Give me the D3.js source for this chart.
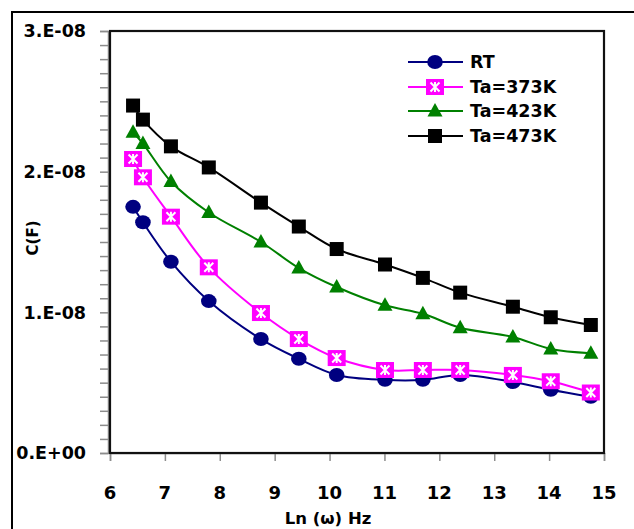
<!DOCTYPE html>
<html><head><meta charset="utf-8">
<script src="https://cdn.jsdelivr.net/npm/d3@7"></script>
<style>html,body{margin:0;padding:0;background:#fff;overflow:hidden}</style>
</head><body>
<svg id="c" width="634" height="529"></svg>
<script>
// ---- data ----
const lnOmega = [6.42, 6.60, 7.11, 7.80, 8.75, 9.44, 10.13, 11.01, 11.70, 12.38, 13.34, 14.03, 14.76];
const seriesNames = ["RT", "Ta=373K", "Ta=423K", "Ta=473K"];
const capRT   = [1.75, 1.64, 1.36, 1.08, 0.81, 0.67, 0.555, 0.52, 0.52, 0.555, 0.505, 0.45, 0.40];
const cap373  = [2.09, 1.96, 1.68, 1.32, 0.995, 0.81, 0.675, 0.59, 0.59, 0.59, 0.555, 0.51, 0.43];
const cap423  = [2.28, 2.20, 1.93, 1.71, 1.50, 1.315, 1.18, 1.05, 0.99, 0.89, 0.825, 0.74, 0.71];
const cap473  = [2.47, 2.37, 2.18, 2.03, 1.78, 1.61, 1.45, 1.34, 1.245, 1.14, 1.04, 0.965, 0.91];
const capScale = 1e-8;
const xTicks = [6, 7, 8, 9, 10, 11, 12, 13, 14, 15];
const yTicks = [0, 1e-8, 2e-8, 3e-8];
const yTickLabels = ["0.E+00", "1.E-08", "2.E-08", "3.E-08"];

const seriesData = [capRT, cap373, cap423, cap473];
const colors = ["#000080", "#ff00ff", "#008000", "#000000"];
const shapes = ["ellipse", "xsquare", "triangle", "square"];

const svg = d3.select("#c");
const L = 110, R = 604, T = 31, B = 453;
const x = d3.scaleLinear().domain([6, 15]).range([L, R]);
const y = d3.scaleLinear().domain([0, 3e-8]).range([B, T]);
const FONT = "'DejaVu Sans', Verdana, sans-serif";

// outer frame
svg.append("rect").attr("x", 12).attr("y", 12).attr("width", 700).attr("height", 700)
  .attr("fill", "none").attr("stroke", "#000").attr("stroke-width", 2);

// y axis (gray) with minor ticks
const minor = d3.range(0, 31).map(i => i * 1e-9);
const yAxis = d3.axisLeft(y).tickValues(minor).tickSize(8).tickFormat("");
const gy = svg.append("g").attr("transform", `translate(${L - 2},0)`).call(yAxis);
gy.selectAll("path,line").attr("stroke", "#8c8c8c").attr("stroke-width", 1.5);

// x axis ticks
const xAxis = d3.axisBottom(x).tickValues(xTicks).tickSize(8).tickFormat("");
const gx = svg.append("g").attr("transform", `translate(0,${B})`).call(xAxis);
gx.selectAll("path,line").attr("stroke", "#8c8c8c").attr("stroke-width", 1.5);

// plot frame
svg.append("rect").attr("x", L).attr("y", T).attr("width", R - L).attr("height", B - T)
  .attr("fill", "none").attr("stroke", "#111").attr("stroke-width", 2.2);

// tick labels
svg.selectAll(".yl").data(yTicks).enter().append("text")
  .attr("x", 86).attr("y", d => y(d)).attr("dy", "0.36em")
  .attr("text-anchor", "end").attr("font-family", FONT).attr("font-weight", "bold")
  .attr("font-size", 17.5).text((d, i) => yTickLabels[i]);
svg.selectAll(".xl").data(xTicks).enter().append("text")
  .attr("x", d => x(d)).attr("y", 499)
  .attr("text-anchor", "middle").attr("font-family", FONT).attr("font-weight", "bold")
  .attr("font-size", 18).text(d => d);

// axis titles
svg.append("text").attr("x", 328).attr("y", 524).attr("text-anchor", "middle")
  .attr("font-family", FONT).attr("font-weight", "bold").attr("font-size", 16.5)
  .text("Ln (ω) Hz");
svg.append("text").attr("transform", "translate(38,238) rotate(-90)").attr("text-anchor", "middle")
  .attr("font-family", FONT).attr("font-weight", "bold").attr("font-size", 15)
  .text("C(F)");

// markers
function drawMarker(g, shape, color, cx, cy) {
  if (shape === "ellipse") {
    g.append("ellipse").attr("cx", cx).attr("cy", cy).attr("rx", 7.8).attr("ry", 7).attr("fill", color);
  } else if (shape === "square") {
    g.append("rect").attr("x", cx - 7).attr("y", cy - 7).attr("width", 14).attr("height", 14).attr("fill", color);
  } else if (shape === "triangle") {
    g.append("path").attr("d", `M${cx},${cy - 8}L${cx + 7.5},${cy + 5.5}L${cx - 7.5},${cy + 5.5}Z`).attr("fill", color);
  } else if (shape === "xsquare") {
    g.append("rect").attr("x", cx - 9).attr("y", cy - 8).attr("width", 18).attr("height", 16).attr("fill", color);
    const s = 4.5;
    g.append("path").attr("d", `M${cx - s},${cy - s}L${cx + s},${cy + s}M${cx + s},${cy - s}L${cx - s},${cy + s}M${cx},${cy - s - 0.5}L${cx},${cy + s + 0.5}`)
      .attr("stroke", "#fff").attr("stroke-width", 2).attr("fill", "none");
  }
}

const line = d3.line().x(d => x(d[0])).y(d => y(d[1])).curve(d3.curveCatmullRom.alpha(0.5));
seriesData.forEach((vals, si) => {
  const pts = lnOmega.map((xv, i) => [xv, vals[i] * capScale]);
  svg.append("path").attr("d", line(pts)).attr("fill", "none")
    .attr("stroke", colors[si]).attr("stroke-width", 2);
  const g = svg.append("g");
  pts.forEach(p => drawMarker(g, shapes[si], colors[si], x(p[0]), y(p[1])));
});

// legend
const legY = [62, 87, 111, 136];
seriesNames.forEach((name, i) => {
  const g = svg.append("g");
  g.append("line").attr("x1", 408).attr("x2", 463).attr("y1", legY[i]).attr("y2", legY[i])
    .attr("stroke", colors[i]).attr("stroke-width", 2);
  drawMarker(g, shapes[i], colors[i], 435, legY[i]);
  g.append("text").attr("x", 470).attr("y", legY[i]).attr("dy", "0.36em")
    .attr("font-family", FONT).attr("font-weight", "bold").attr("font-size", 17.5).text(name);
});
</script>
</body></html>
